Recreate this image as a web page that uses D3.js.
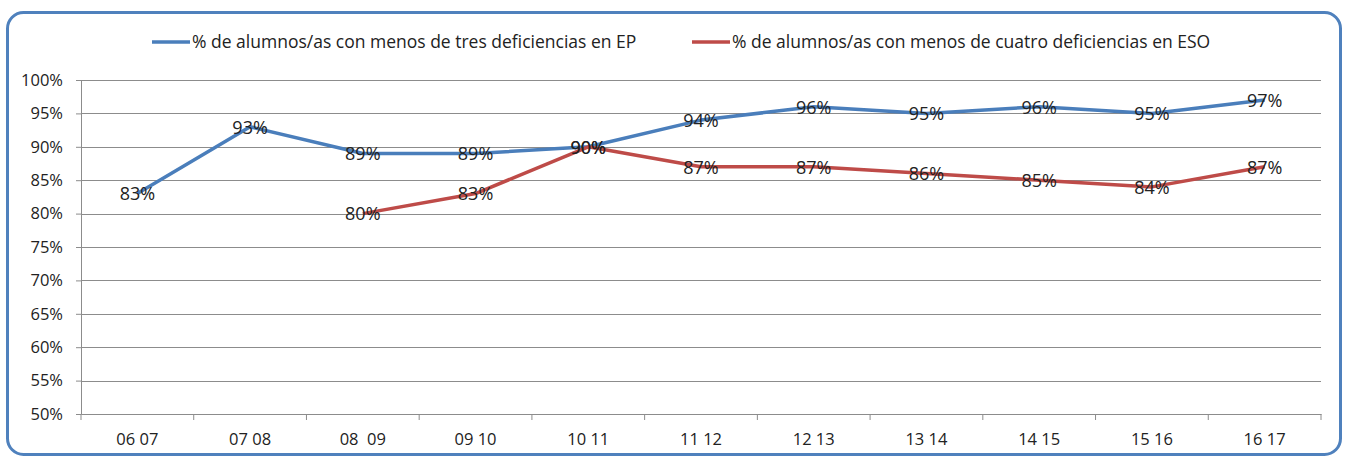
<!DOCTYPE html>
<html>
<head>
<meta charset="utf-8">
<script src="https://cdn.jsdelivr.net/npm/d3@7"></script>
<style>
  body { margin: 0; background: #fff; }
  text { font-family: "Open Sans", sans-serif; fill: #222; white-space: pre; }
</style>
</head>
<body>
<script>
// data
var cursos = ["06 07", "07 08", "08  09", "09 10", "10 11", "11 12", "12 13", "13 14", "14 15", "15 16", "16 17"];
var ep = [83, 93, 89, 89, 90, 94, 96, 95, 96, 95, 97];
var eso = [null, null, 80, 83, 90, 87, 87, 86, 85, 84, 87];
var yTicks = [50, 55, 60, 65, 70, 75, 80, 85, 90, 95, 100];
var nombres = ["% de alumnos/as con menos de tres deficiencias en EP",
               "% de alumnos/as con menos de cuatro deficiencias en ESO"];
var colores = ["#4a7ebb", "#be4b48"];

var W = 1348, H = 460;
var margin = { top: 80, right: 27, bottom: 46, left: 81 },
    width = W - margin.left - margin.right,
    height = H - margin.top - margin.bottom;

var svg = d3.select("body").append("svg")
    .attr("width", W)
    .attr("height", H);

// frame
svg.append("rect")
    .attr("x", 7.5).attr("y", 12.5)
    .attr("width", 1333).attr("height", 442)
    .attr("rx", 16).attr("ry", 16)
    .attr("fill", "#fff")
    .attr("stroke", "#4f81bd")
    .attr("stroke-width", 3);

var g = svg.append("g")
    .attr("transform", "translate(" + margin.left + "," + margin.top + ")");

var x = d3.scaleBand().domain(cursos).range([0, width]);
var y = d3.scaleLinear().domain([50, 100]).range([height, 0]);

// gridlines
g.selectAll(".grid").data(yTicks.slice(1)).enter().append("line")
    .attr("x1", 0).attr("x2", width)
    .attr("y1", function (d) { return Math.round(y(d)) + 0.5; })
    .attr("y2", function (d) { return Math.round(y(d)) + 0.5; })
    .attr("stroke", "#8c8c8c").attr("stroke-width", 1);

// y axis
var yAxis = g.append("g")
    .call(d3.axisLeft(y).tickValues(yTicks).tickSize(5).tickPadding(13)
        .tickFormat(function (d) { return d + "%"; }));
// x axis (ticks at category boundaries)
var xAxis = g.append("g")
    .attr("transform", "translate(0," + height + ")")
    .call(d3.axisBottom(x).tickSize(0).tickPadding(19));
xAxis.selectAll(".tick").data(cursos).append("line")
    .attr("x1", -x.bandwidth() / 2).attr("x2", -x.bandwidth() / 2)
    .attr("y1", 0).attr("y2", 6)
    .attr("stroke", "#8c8c8c");
xAxis.append("line")
    .attr("x1", width).attr("x2", width).attr("y1", 0).attr("y2", 6)
    .attr("stroke", "#8c8c8c");

[yAxis, xAxis].forEach(function (a) {
    a.select(".domain").attr("stroke", "#8c8c8c");
    a.selectAll(".tick line").attr("stroke", "#8c8c8c");
    a.selectAll("text").attr("font-family", "Open Sans").attr("font-size", 16.5).attr("fill", "#222");
});

// lines
var series = [ep, eso];
series.forEach(function (vals, i) {
    var pts = cursos.map(function (c, j) { return { c: c, v: vals[j] }; });
    var line = d3.line()
        .defined(function (d) { return d.v != null; })
        .x(function (d) { return x(d.c) + x.bandwidth() / 2; })
        .y(function (d) { return y(d.v); });
    g.append("path")
        .datum(pts)
        .attr("fill", "none")
        .attr("stroke", colores[i])
        .attr("stroke-width", 3.5)
        .attr("stroke-linejoin", "round")
        .attr("d", line);
});

// data labels
series.forEach(function (vals, i) {
    var pts = cursos.map(function (c, j) { return { c: c, v: vals[j] }; })
        .filter(function (d) { return d.v != null; });
    g.selectAll(".lab" + i).data(pts).enter().append("text")
        .attr("x", function (d) { return x(d.c) + x.bandwidth() / 2; })
        .attr("y", function (d) { return y(d.v); })
        .attr("dy", "0.38em")
        .attr("text-anchor", "middle")
        .attr("font-size", 18)
        .text(function (d) { return d.v + "%"; });
});

// legend
var legX = [152, 692];
nombres.forEach(function (n, i) {
    var lg = svg.append("g").attr("transform", "translate(" + legX[i] + ",42)");
    lg.append("line").attr("x1", 0).attr("x2", 38).attr("y1", 0).attr("y2", 0)
        .attr("stroke", colores[i]).attr("stroke-width", 3.5);
    lg.append("text").attr("x", 40).attr("dy", "0.35em")
        .attr("font-size", 17.5).text(n);
});
</script>
</body>
</html>
